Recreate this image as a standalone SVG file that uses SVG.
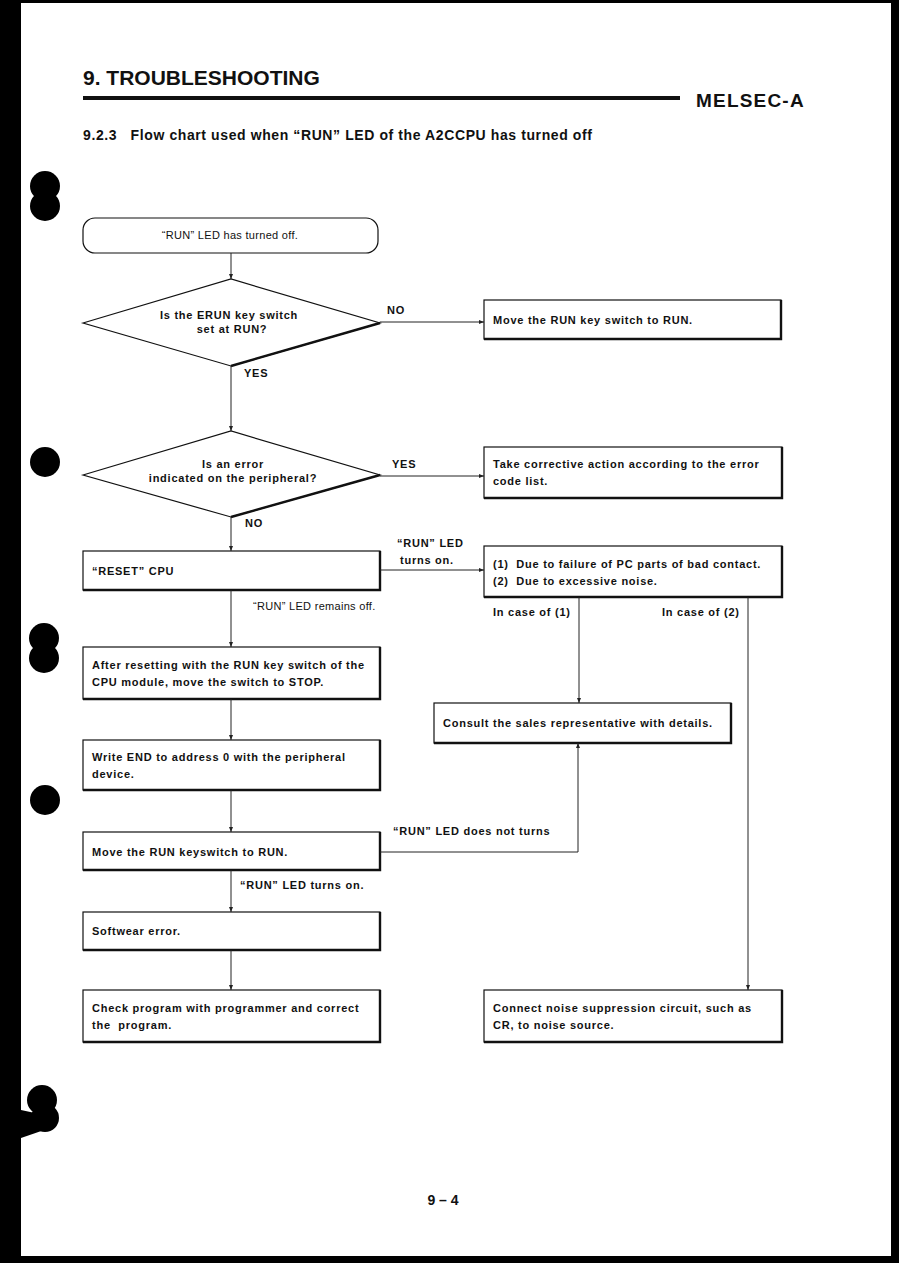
<svg xmlns="http://www.w3.org/2000/svg" width="899" height="1263" viewBox="0 0 899 1263">
<style>
text{font-family:"Liberation Sans",Arial,sans-serif;fill:#111}
.t{font-size:11px;font-weight:bold;letter-spacing:0.75px}
.n{font-weight:normal;letter-spacing:0.3px}
.box{fill:#fff;stroke:#111;stroke-width:1.2}
.sh{fill:none;stroke:#111;stroke-width:2.4}
.ln{fill:none;stroke:#222;stroke-width:1}
.c{text-anchor:middle}
</style>
<defs>
<marker id="ar" markerWidth="6" markerHeight="6" refX="5" refY="3" orient="auto" markerUnits="userSpaceOnUse">
<path d="M0,1 L5,3 L0,5 Z" fill="#222"/>
</marker>
</defs>
<rect width="899" height="1263" fill="#fff"/>
<!-- page border -->
<g id="page">
<rect x="0" y="0" width="21" height="1263" fill="#000"/>
<rect x="0" y="0" width="899" height="3" fill="#000"/>
<rect x="891" y="0" width="8" height="1263" fill="#000"/>
<rect x="0" y="1256" width="899" height="7" fill="#000"/>
<circle cx="45" cy="186" r="15" fill="#000"/>
<circle cx="45" cy="206" r="15" fill="#000"/>
<circle cx="45" cy="462" r="15" fill="#000"/>
<circle cx="44" cy="638" r="15" fill="#000"/>
<circle cx="44" cy="658" r="15" fill="#000"/>
<circle cx="45" cy="800" r="15" fill="#000"/>
<circle cx="42" cy="1100" r="15" fill="#000"/>
<circle cx="45" cy="1118" r="14" fill="#000"/>
<path d="M21,1110 L58,1118 L50,1128 L21,1138 Z" fill="#000"/>
</g>
<!-- header -->
<g id="header">
<text x="83" y="85" style="font-size:21px;font-weight:bold">9. TROUBLESHOOTING</text>
<path d="M83,98 L680,98" stroke="#111" stroke-width="4"/>
<text x="696" y="107" style="font-size:19px;font-weight:bold;letter-spacing:1.2px">MELSEC-A</text>
<text x="83" y="140" style="font-size:14px;font-weight:bold;letter-spacing:0.6px" xml:space="preserve">9.2.3   Flow chart used when “RUN” LED of the A2CCPU has turned off</text>
<text x="443" y="1205" class="c" style="font-size:14px;font-weight:bold">9 – 4</text>
</g>
<!-- nodes -->
<g id="start">
<rect x="83" y="218" width="295" height="35" rx="12" class="box"/>
<text x="230" y="239" class="t c n">“RUN” LED has turned off.</text>
</g>
<g id="dec1">
<polygon points="83,323 231,279 380,323 231,366" class="box"/>
<path d="M231,366 L380,323" class="sh"/>
<text x="229" y="319" class="t c">Is the ERUN key switch</text>
<text x="232" y="333" class="t c">set at RUN?</text>
</g>
<g id="n_move1">
<rect x="484" y="300" width="297" height="39" class="box"/>
<path d="M781,300 L781,339 L484,339" class="sh"/>
<text x="493" y="324" class="t">Move the RUN key switch to RUN.</text>
</g>
<g id="dec2">
<polygon points="83,475 231,431 380,475 231,517" class="box"/>
<path d="M231,517 L380,475" class="sh"/>
<text x="233" y="468" class="t c">Is an error</text>
<text x="233" y="482" class="t c">indicated on the peripheral?</text>
</g>
<g id="n_corrective">
<rect x="484" y="447" width="298" height="51" class="box"/>
<path d="M782,447 L782,498 L484,498" class="sh"/>
<text x="493" y="468" class="t">Take corrective action according to the error</text>
<text x="493" y="485" class="t">code list.</text>
</g>
<g id="n_reset">
<rect x="83" y="551" width="297" height="39" class="box"/>
<path d="M380,551 L380,590 L83,590" class="sh"/>
<text x="92" y="575" class="t">“RESET” CPU</text>
</g>
<g id="n_cause">
<rect x="484" y="546" width="298" height="51" class="box"/>
<path d="M782,546 L782,597 L484,597" class="sh"/>
<text x="493" y="568" class="t" xml:space="preserve">(1)  Due to failure of PC parts of bad contact.</text>
<text x="493" y="585" class="t" xml:space="preserve">(2)  Due to excessive noise.</text>
</g>
<g id="n_afterreset">
<rect x="83" y="647" width="297" height="52" class="box"/>
<path d="M380,647 L380,699 L83,699" class="sh"/>
<text x="92" y="669" class="t">After resetting with the RUN key switch of the</text>
<text x="92" y="686" class="t">CPU module, move the switch to STOP.</text>
</g>
<g id="n_consult">
<rect x="434" y="703" width="297" height="40" class="box"/>
<path d="M731,703 L731,743 L434,743" class="sh"/>
<text x="443" y="727" class="t">Consult the sales representative with details.</text>
</g>
<g id="n_writeend">
<rect x="83" y="740" width="297" height="50" class="box"/>
<path d="M380,740 L380,790 L83,790" class="sh"/>
<text x="92" y="761" class="t">Write END to address 0 with the peripheral</text>
<text x="92" y="778" class="t">device.</text>
</g>
<g id="n_move2">
<rect x="83" y="832" width="297" height="38" class="box"/>
<path d="M380,832 L380,870 L83,870" class="sh"/>
<text x="92" y="856" class="t">Move the RUN keyswitch to RUN.</text>
</g>
<g id="n_software">
<rect x="83" y="912" width="297" height="38" class="box"/>
<path d="M380,912 L380,950 L83,950" class="sh"/>
<text x="92" y="935" class="t">Softwear error.</text>
</g>
<g id="n_check">
<rect x="83" y="990" width="297" height="52" class="box"/>
<path d="M380,990 L380,1042 L83,1042" class="sh"/>
<text x="92" y="1012" class="t">Check program with programmer and correct</text>
<text x="92" y="1029" class="t" xml:space="preserve">the  program.</text>
</g>
<g id="n_noise">
<rect x="484" y="990" width="298" height="52" class="box"/>
<path d="M782,990 L782,1042 L484,1042" class="sh"/>
<text x="493" y="1012" class="t">Connect noise suppression circuit, such as</text>
<text x="493" y="1029" class="t">CR, to noise source.</text>
</g>
<!-- connectors -->
<g id="connectors">
<path d="M231,253 L231,279" class="ln" marker-end="url(#ar)"/>
<path d="M380,322 L484,322" class="ln" marker-end="url(#ar)"/>
<path d="M231,366 L231,431" class="ln" marker-end="url(#ar)"/>
<path d="M380,476 L484,476" class="ln" marker-end="url(#ar)"/>
<path d="M231,517 L231,551" class="ln" marker-end="url(#ar)"/>
<path d="M380,570 L484,570" class="ln" marker-end="url(#ar)"/>
<path d="M231,590 L231,647" class="ln" marker-end="url(#ar)"/>
<path d="M231,699 L231,740" class="ln" marker-end="url(#ar)"/>
<path d="M231,790 L231,832" class="ln" marker-end="url(#ar)"/>
<path d="M231,870 L231,912" class="ln" marker-end="url(#ar)"/>
<path d="M231,950 L231,990" class="ln" marker-end="url(#ar)"/>
<path d="M579,597 L579,703" class="ln" marker-end="url(#ar)"/>
<path d="M748,597 L748,990" class="ln" marker-end="url(#ar)"/>
<path d="M380,852 L578,852 L578,743" class="ln" marker-end="url(#ar)"/>
<text x="387" y="314" class="t">NO</text>
<text x="244" y="377" class="t">YES</text>
<text x="392" y="468" class="t">YES</text>
<text x="245" y="527" class="t">NO</text>
<text x="397" y="547" class="t">“RUN” LED</text>
<text x="400" y="564" class="t">turns on.</text>
<text x="253" y="610" class="t n">“RUN” LED remains off.</text>
<text x="493" y="616" class="t">In case of (1)</text>
<text x="662" y="616" class="t">In case of (2)</text>
<text x="393" y="835" class="t">“RUN” LED does not turns</text>
<text x="240" y="889" class="t">“RUN” LED turns on.</text>
</g>
</svg>
